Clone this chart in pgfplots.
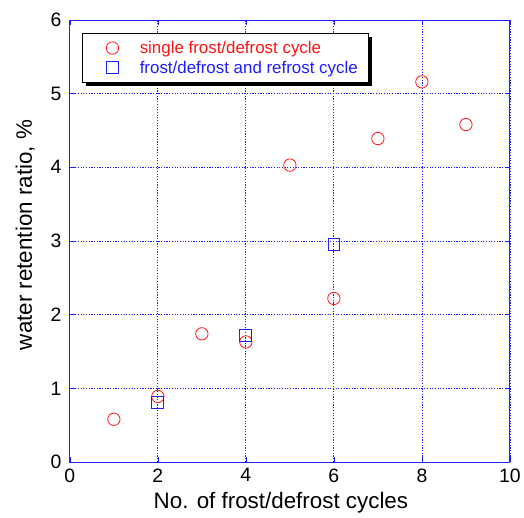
\documentclass[border=0pt]{standalone}
\usepackage{pgfplots}
\pgfplotsset{compat=1.18}
\usepackage{fontspec}
\setmainfont{Liberation Sans}
\usetikzlibrary{shadows}
\definecolor{mblue}{RGB}{30,30,255}
\definecolor{mred}{RGB}{255,20,20}
\begin{document}
\begin{tikzpicture}
\begin{axis}[
  at={(0,0)}, anchor=south west,
  scale only axis, width=441bp, height=443bp,
  xmin=0, xmax=10, ymin=0, ymax=6,
  xtick={0,2,...,10}, ytick={0,1,...,6},
  tick align=inside, major tick length=5bp,
  axis line style={mblue, line width=0.9pt},
  tick style={mblue, line width=0.7pt},
  grid=major,
  major grid style={mblue, line width=0.8pt, dash pattern=on 1.2pt off 1.5pt},
  /pgf/number format/assume math mode=true,
  ticklabel style={font=\fontsize{19.5}{22}\selectfont},
  yticklabel style={xshift=-5bp},
  xticklabel style={yshift=-3bp},
  label style={font=\fontsize{22.5}{25}\selectfont},
  xlabel={No. of frost/defrost cycles},
  ylabel={water retention ratio, \%},
  xlabel style={yshift=-3bp, xshift=-9bp},
  ylabel style={yshift=9bp, xshift=6bp},
  legend cell align=left,
  legend image code/.code={\path (0bp,0bp) (46bp,0bp); \draw[#1] plot coordinates {(21bp,0bp)};},
  legend style={at={(rel axis cs:0.027,0.971)}, anchor=north west,
    draw=black, line width=0.8pt, fill=white,
    drop shadow={shadow xshift=3.5bp, shadow yshift=-3.5bp, opacity=1, fill=black},
    font=\fontsize{17}{19}\selectfont, inner xsep=9bp, inner ysep=6bp,
    row sep=2bp},
]
\addplot[only marks, mark=o, mark size=6.2bp, mred, thick] coordinates {
 (1,0.58) (2,0.89) (3,1.74) (4,1.63) (5,4.03) (6,2.22) (7,4.39) (8,5.16) (9,4.58)
};
\addlegendentry{\textcolor{mred}{single frost/defrost cycle}}
\addplot[only marks, mark=square, mark size=6bp, mblue, thick] coordinates {
 (2,0.81) (4,1.72) (6,2.95)
};
\addlegendentry{\textcolor{mblue}{frost/defrost and refrost cycle}}
\end{axis}
\path[use as bounding box] (-70bp,-56bp) rectangle (454bp,463bp);
\end{tikzpicture}
\end{document}
